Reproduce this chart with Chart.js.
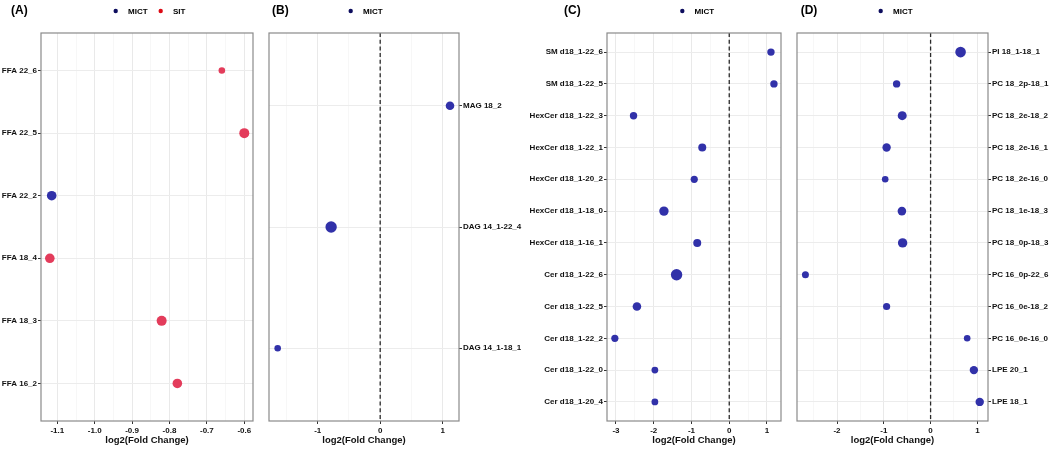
<!DOCTYPE html>
<html><head><meta charset="utf-8">
<script src="https://cdn.jsdelivr.net/npm/chart.js@4.4.1/dist/chart.umd.min.js"></script>
<style>
html,body{margin:0;padding:0;background:#fff;}
#wrap{position:relative;width:1052px;height:450px;overflow:hidden;background:#fff;}
.p{position:absolute;top:0;height:450px;}
</style></head><body>
<div id="wrap">
<div class="p" style="left:0px;width:262px"><canvas id="cA"></canvas></div>
<div class="p" style="left:258px;width:268px"><canvas id="cB"></canvas></div>
<div class="p" style="left:526px;width:263px"><canvas id="cC"></canvas></div>
<div class="p" style="left:789px;width:263px"><canvas id="cD"></canvas></div>
</div>
<script>
// ---------- DATA ----------
const catsA = ["FFA 22_6","FFA 22_5","FFA 22_2","FFA 18_4","FFA 18_3","FFA 16_2"];
const fcA   = [-0.660, -0.600, -1.115, -1.120, -0.821, -0.779];
const grpA  = ["SIT","SIT","MICT","SIT","SIT","SIT"];
const sizeA = [3.3, 5.0, 4.8, 4.8, 5.0, 4.8];
const ticksA = ["-1.1","-1.0","-0.9","-0.8","-0.7","-0.6"];

const catsB = ["MAG 18_2","DAG 14_1-22_4","DAG 14_1-18_1"];
const fcB   = [1.117, -0.785, -1.640];
const grpB  = ["MICT","MICT","MICT"];
const sizeB = [4.3, 5.7, 3.3];
const ticksB = ["-1","0","1"];

const catsC = ["SM d18_1-22_6","SM d18_1-22_5","HexCer d18_1-22_3","HexCer d18_1-22_1","HexCer d18_1-20_2","HexCer d18_1-18_0","HexCer d18_1-16_1","Cer d18_1-22_6","Cer d18_1-22_5","Cer d18_1-22_2","Cer d18_1-22_0","Cer d18_1-20_4"];
const fcC   = [1.105, 1.184, -2.535, -0.715, -0.927, -1.730, -0.848, -1.395, -2.445, -3.030, -1.970, -1.970];
const grpC  = ["MICT","MICT","MICT","MICT","MICT","MICT","MICT","MICT","MICT","MICT","MICT","MICT"];
const sizeC = [3.7, 3.7, 3.7, 4.0, 3.6, 4.7, 4.0, 5.7, 4.3, 3.6, 3.4, 3.4];
const ticksC = ["-3","-2","-1","0","1"];

const catsD = ["PI 18_1-18_1","PC 18_2p-18_1","PC 18_2e-18_2","PC 18_2e-16_1","PC 18_2e-16_0","PC 18_1e-18_3","PC 18_0p-18_3","PC 16_0p-22_6","PC 16_0e-18_2","PC 16_0e-16_0","LPE 20_1","LPE 18_1"];
const fcD   = [0.641, -0.726, -0.606, -0.940, -0.970, -0.613, -0.598, -2.675, -0.940, 0.782, 0.925, 1.050];
const grpD  = ["MICT","MICT","MICT","MICT","MICT","MICT","MICT","MICT","MICT","MICT","MICT","MICT"];
const sizeD = [5.3, 3.7, 4.5, 4.2, 3.3, 4.3, 4.7, 3.5, 3.6, 3.3, 4.2, 4.2];
const ticksD = ["-2","-1","0","1"];

const groups = ["MICT","SIT"];

// ---------- STYLE ----------
const FONT = "'Liberation Sans', Arial, Helvetica, sans-serif";
const pointColor  = {MICT:'#3131a9', SIT:'#e33c5b'};
const legendColor = {MICT:'#0d0d5e', SIT:'#dc0a14'};

const decor = {
  id:'decor',
  beforeDatasetsDraw(chart, args, o){
    if(!o.zeroLine) return;
    const ctx = chart.ctx, a = chart.chartArea;
    const x = chart.scales.x.getPixelForValue(0);
    ctx.save();
    ctx.setLineDash([4,2.7]);
    ctx.strokeStyle = '#2a2a2a';
    ctx.lineWidth = 1.3;
    ctx.beginPath(); ctx.moveTo(x, a.top); ctx.lineTo(x, a.bottom); ctx.stroke();
    ctx.restore();
  },
  afterDraw(chart, args, o){
    const ctx = chart.ctx, a = chart.chartArea;
    ctx.save();
    ctx.strokeStyle = '#8a8a8a';
    ctx.lineWidth = 1.2;
    ctx.strokeRect(a.left, a.top, a.right - a.left, a.bottom - a.top);
    ctx.fillStyle = '#000';
    ctx.textBaseline = 'middle';
    ctx.textAlign = 'left';
    ctx.font = 'bold 12px ' + FONT;
    ctx.fillText(o.tag, o.tagX, 11);
    ctx.font = 'bold 8px ' + FONT;
    o.legend.forEach(it => {
      ctx.fillStyle = legendColor[it.group];
      ctx.beginPath(); ctx.arc(it.x, 11, 2.2, 0, Math.PI*2); ctx.fill();
      ctx.fillStyle = '#000';
      ctx.fillText(it.group, it.x + 12.3, 11.3);
    });
    ctx.restore();
  }
};

function makePanel(id, cats, fc, grp, size, tickLabels, opt){
  const majors = tickLabels.map(t => parseFloat(t));
  const step = majors[1] - majors[0];
  const minors = [];
  for(let v = majors[0] - step/2; v <= opt.xmax + 1e-9; v += step){
    if(v >= opt.xmin - 1e-9) minors.push(+v.toFixed(6));
  }
  const allTicks = majors.concat(minors).filter(v => v >= opt.xmin - 1e-9 && v <= opt.xmax + 1e-9).sort((a,b)=>a-b);
  const isMajor = v => majors.some(m => Math.abs(m - v) < 1e-6);
  const labelOf = v => { const i = majors.findIndex(m => Math.abs(m - v) < 1e-6); return i >= 0 ? tickLabels[i] : ''; };

  const present = groups.filter(g => grp.includes(g));
  const datasets = present.map(g => ({
    label: g,
    data: cats.map((c,i) => grp[i] === g ? {x: fc[i], y: i, r: size[i]} : null).filter(d => d),
    backgroundColor: pointColor[g],
    borderWidth: 0,
    clip: false
  }));

  new Chart(document.getElementById(id), {
    type: 'bubble',
    data: { datasets },
    plugins: [decor],
    options: {
      responsive: true,
      maintainAspectRatio: false,
      animation: false,
      events: [],
      layout: { padding: opt.padding },
      plugins: {
        legend: { display: false },
        tooltip: { enabled: false },
        decor: { zeroLine: opt.zeroLine, tag: opt.tag, tagX: opt.tagX, legend: present.map((g,k) => ({group: g, x: opt.legendX[k]})) }
      },
      scales: {
        x: {
          type: 'linear',
          position: 'bottom',
          min: opt.xmin, max: opt.xmax,
          afterBuildTicks: s => { s.ticks = allTicks.map(v => ({value: v})); },
          afterFit: s => { s.height = 29; },
          border: { display: false },
          grid: {
            color: c => isMajor(c.tick.value) ? '#e9e9e9' : '#f3f3f3',
            lineWidth: c => isMajor(c.tick.value) ? 1 : 0.7,
            tickColor: c => isMajor(c.tick.value) ? '#333' : 'rgba(0,0,0,0)',
            tickLength: 3,
            tickWidth: 1
          },
          ticks: {
            autoSkip: false, maxRotation: 0, padding: 2,
            color: '#111',
            font: { family: FONT, size: 8, weight: 'bold' },
            callback: v => labelOf(v)
          },
          title: {
            display: true, text: 'log2(Fold Change)', color: '#111',
            font: { family: FONT, size: 9.5, weight: 'bold' },
            padding: { top: 0, bottom: 4 }
          }
        },
        y: {
          type: 'linear',
          position: opt.yPos,
          reverse: true,
          min: -0.6, max: cats.length - 0.4,
          afterBuildTicks: s => { s.ticks = cats.map((c,i) => ({value: i})); },
          afterFit: s => { s.width = opt.yWidth; },
          border: { display: false },
          grid: { color: '#ececec', lineWidth: 1, tickColor: '#333', tickLength: 3, tickWidth: 1 },
          ticks: {
            autoSkip: false, padding: 1, color: '#111',
            font: { family: FONT, size: 8, weight: 'bold' },
            callback: v => cats[Math.round(v)]
          }
        }
      }
    }
  });
}

makePanel('cA', catsA, fcA, grpA, sizeA, ticksA, {
  xmin: -1.1436, xmax: -0.5767, yPos: 'left', yWidth: 41,
  padding: {top: 33, bottom: 0, left: 0, right: 9}, zeroLine: false,
  tag: '(A)', tagX: 11, legendX: [115.7, 160.7]
});
makePanel('cB', catsB, fcB, grpB, sizeB, ticksB, {
  xmin: -1.779, xmax: 1.261, yPos: 'right', yWidth: 67,
  padding: {top: 33, bottom: 0, left: 11, right: 0}, zeroLine: true,
  tag: '(B)', tagX: 14, legendX: [92.7]
});
makePanel('cC', catsC, fcC, grpC, sizeC, ticksC, {
  xmin: -3.238, xmax: 1.371, yPos: 'left', yWidth: 81,
  padding: {top: 33, bottom: 0, left: 0, right: 8}, zeroLine: true,
  tag: '(C)', tagX: 38, legendX: [156.3]
});
makePanel('cD', catsD, fcD, grpD, sizeD, ticksD, {
  xmin: -2.855, xmax: 1.227, yPos: 'right', yWidth: 64,
  padding: {top: 33, bottom: 0, left: 8, right: 0}, zeroLine: true,
  tag: '(D)', tagX: 11.7, legendX: [91.7]
});
</script>
</body></html>
